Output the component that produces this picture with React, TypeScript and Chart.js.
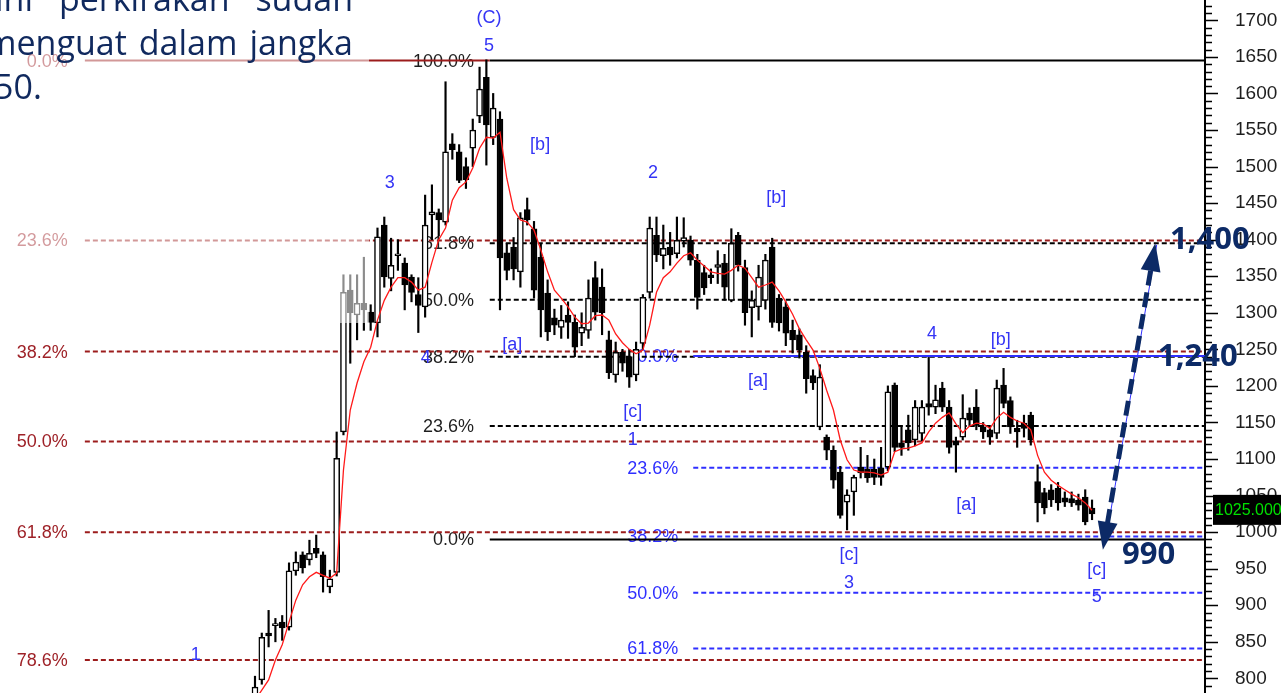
import React, { useEffect, useRef } from 'react';
import { Chart, registerables } from 'chart.js';

Chart.register(...registerables);

// ---- Candles (index = trading session) ----
const opens = [
  770, 798, 862, 872, 877, 870, 947, 969, 962, 978,
  969, 925, 945, 1137, 1331, 1297, 1313, 1301, 1286, 1420,
  1347, 1378, 1368, 1349, 1325, 1308, 1434, 1437, 1424, 1531,
  1520, 1500, 1525, 1569, 1622, 1540, 1565, 1382, 1390, 1356,
  1441, 1415, 1376, 1327, 1293, 1280, 1297, 1287, 1272, 1276,
  1348, 1335, 1263, 1215, 1246, 1240, 1215, 1258, 1328, 1406,
  1378, 1390, 1381, 1398, 1399, 1372, 1355, 1352, 1362, 1368,
  1317, 1406, 1362, 1307, 1308, 1317, 1390, 1320, 1308, 1276,
  1270, 1246, 1214, 1144, 1130, 1112, 1082, 1041, 1055, 1089,
  1086, 1086, 1088, 1089, 1201, 1122, 1140, 1126, 1135, 1176,
  1171, 1197, 1171, 1125, 1130, 1163, 1171, 1144, 1140, 1135,
  1201, 1180, 1142, 1149, 1160, 1069, 1054, 1058, 1060, 1047,
  1046, 1044, 1048, 1033,
];
const highs = [
  803, 862, 893, 882, 886, 958, 973, 973, 989, 996,
  973, 948, 1137, 1352, 1352, 1352, 1376, 1311, 1416, 1431,
  1402, 1400, 1375, 1352, 1348, 1461, 1475, 1442, 1616, 1545,
  1530, 1512, 1565, 1636, 1646, 1600, 1575, 1395, 1403, 1437,
  1457, 1425, 1395, 1345, 1305, 1310, 1315, 1297, 1300, 1345,
  1370, 1360, 1275, 1260, 1250, 1250, 1260, 1325, 1431, 1431,
  1420, 1410, 1431, 1430, 1405, 1380, 1365, 1360, 1385, 1380,
  1415, 1410, 1372, 1330, 1365, 1380, 1402, 1325, 1315, 1290,
  1278, 1255, 1222, 1229, 1133, 1118, 1090, 1058, 1078, 1116,
  1105, 1100, 1116, 1200, 1204, 1146, 1160, 1180, 1180, 1239,
  1201, 1205, 1180, 1130, 1188, 1170, 1195, 1150, 1145, 1208,
  1224, 1185, 1153, 1160, 1164, 1092, 1060, 1065, 1068, 1055,
  1055, 1052, 1058, 1044,
];
const lows = [
  760, 792, 843, 850, 852, 866, 941, 944, 955, 965,
  918, 917, 940, 1133, 1231, 1263, 1276, 1276, 1267, 1335,
  1330, 1358, 1304, 1315, 1273, 1294, 1400, 1405, 1420, 1510,
  1478, 1470, 1500, 1560, 1502, 1530, 1304, 1345, 1345, 1335,
  1420, 1320, 1267, 1262, 1270, 1265, 1265, 1240, 1255, 1265,
  1290, 1270, 1210, 1205, 1220, 1198, 1207, 1250, 1320, 1370,
  1360, 1365, 1375, 1390, 1365, 1305, 1325, 1340, 1340, 1317,
  1315, 1357, 1283, 1267, 1290, 1305, 1280, 1275, 1255, 1245,
  1238, 1190, 1195, 1140, 1099, 1060, 1019, 1003, 1023, 1074,
  1068, 1065, 1064, 1084, 1110, 1105, 1112, 1118, 1125, 1160,
  1162, 1165, 1108, 1082, 1126, 1145, 1140, 1128, 1120, 1128,
  1170, 1135, 1116, 1130, 1119, 1014, 1025, 1035, 1030, 1035,
  1035, 1030, 1010, 1017,
];
const closes = [
  788, 856, 858, 875, 869, 947, 959, 951, 971, 971,
  939, 936, 1101, 1328, 1300, 1313, 1304, 1287, 1404, 1349,
  1365, 1380, 1338, 1328, 1310, 1420, 1438, 1427, 1520, 1523,
  1481, 1482, 1550, 1606, 1557, 1580, 1375, 1358, 1360, 1430,
  1427, 1331, 1304, 1274, 1283, 1290, 1287, 1253, 1280, 1320,
  1301, 1300, 1218, 1246, 1231, 1212, 1250, 1321, 1416, 1379,
  1388, 1379, 1399, 1403, 1372, 1321, 1334, 1348, 1366, 1335,
  1395, 1365, 1300, 1317, 1349, 1372, 1287, 1286, 1272, 1263,
  1249, 1210, 1204, 1212, 1112, 1071, 1023, 1051, 1075, 1081,
  1074, 1075, 1075, 1192, 1116, 1116, 1122, 1171, 1171, 1171,
  1181, 1171, 1116, 1119, 1156, 1153, 1146, 1137, 1130, 1197,
  1176, 1144, 1137, 1142, 1126, 1040, 1033, 1044, 1040, 1041,
  1040, 1037, 1014, 1025,
];
// red moving average
const maValues = [
  770, 784, 798, 825, 846, 877, 907, 928, 939, 945,
  941, 937, 944, 1085, 1167, 1204, 1233, 1253, 1290, 1317,
  1335, 1348, 1348, 1342, 1331, 1335, 1369, 1400, 1416, 1454,
  1471, 1479, 1498, 1525, 1540, 1539, 1547, 1484, 1441, 1427,
  1424, 1413, 1386, 1356, 1331, 1320, 1308, 1294, 1285, 1286,
  1296, 1297, 1290, 1271, 1259, 1250, 1244, 1249, 1283, 1328,
  1348, 1356, 1368, 1378, 1382, 1372, 1364, 1356, 1354, 1353,
  1358, 1365, 1361, 1348, 1335, 1338, 1342, 1330, 1315, 1298,
  1278, 1263, 1249, 1224, 1194, 1167, 1126, 1099, 1085, 1082,
  1082, 1081, 1078, 1082, 1110, 1114, 1115, 1118, 1122, 1137,
  1149, 1157, 1163, 1148, 1136, 1145, 1149, 1148, 1142, 1156,
  1164, 1157, 1152, 1149, 1140, 1105, 1082, 1071, 1064, 1058,
  1052, 1047, 1040, 1030,
];

// ---- Axes ----
const yTickValues = [800, 850, 900, 950, 1000, 1050, 1100, 1150, 1200, 1250, 1300, 1350, 1400, 1450, 1500, 1550, 1600, 1650, 1700];
const Y_MIN = 780;
const Y_MAX = 1727.8;
const X_MIN = -37.47;
const X_MAX = 139.6;

// ---- Fibonacci sets ----
const leftFibLabels = ['0.0%', '23.6%', '38.2%', '50.0%', '61.8%', '78.6%'];
const leftFibValues = [1645, 1399, 1247, 1124, 1000, 825];
const blackFibLabels = ['100.0%', '61.8%', '50.0%', '38.2%', '23.6%', '0.0%'];
const blackFibValues = [1645, 1395, 1318, 1240, 1145, 990];
const blueFibLabels = ['0.0%', '23.6%', '38.2%', '50.0%', '61.8%'];
const blueFibValues = [1241, 1088, 994, 917, 841];
const fibLabelEnd = { left: -27.5, black: 32.2, blue: 62.2 };
const fibLineStart = { left: -25.0, black: 34.5, blue: 64.4 };

// ---- Elliott wave labels ----
const waveLabels = ['(C)', '5', '3', '[b]', '2', '[b]', '[a]', '4', '[a]', '[c]', '1', '4', '[b]', '[a]', '[c]', '3', '[c]', '5', '1'];
const waveLabelX = [34.4, 34.4, 19.8, 41.9, 58.5, 76.6, 37.8, 25.1, 73.9, 55.5, 55.5, 99.5, 109.6, 104.5, 87.3, 87.3, 123.7, 123.7, -8.7];
const waveLabelY = [1703, 1665, 1477, 1529, 1491, 1457, 1256, 1238, 1207, 1164, 1126, 1271, 1263, 1037, 969, 930, 948, 911, 832];

// ---- Target annotations ----
const targetLabels = ['1,400', '1,240', '990'];
const targetLabelX = [134.46, 132.7, 127.4];
const targetLabelY = [1399.5, 1239.5, 968.6];
const arrowX = [124.6, 132.3];
const arrowY = [976, 1395];
const trendX = [125.2, 132.5];
const trendY = [999, 1393];
const lastPrice = 1025;
const lastPriceLabel = '1025.000';

const introLines = [
  ['ini', 'perkirakan', 'sudah'],
  ['menguat', 'dalam', 'jangka'],
  ['50.'],
];

const NAVY = '#0c2a66';
const DARK_RED = '#9c1c1c';
const BLUE = '#2f2fff';
const LABEL_FONT = '"Liberation Sans", Arial, sans-serif';

const annotationsPlugin = {
  id: 'waveAnnotations',
  beforeDatasetsDraw(chart: any) {
    const { ctx, scales } = chart;
    const x = scales.x;
    const y = scales.y;
    ctx.save();
    ctx.font = `18px ${LABEL_FONT}`;
    ctx.textAlign = 'right';
    ctx.textBaseline = 'middle';
    ctx.fillStyle = '#9e2127';
    leftFibLabels.forEach((t, k) => ctx.fillText(t, x.getPixelForValue(fibLabelEnd.left), y.getPixelForValue(leftFibValues[k]) + 1));
    ctx.fillStyle = '#1e1e1e';
    blackFibLabels.forEach((t, k) => ctx.fillText(t, x.getPixelForValue(fibLabelEnd.black), y.getPixelForValue(blackFibValues[k]) + 1));
    ctx.fillStyle = BLUE;
    blueFibLabels.forEach((t, k) => ctx.fillText(t, x.getPixelForValue(fibLabelEnd.blue), y.getPixelForValue(blueFibValues[k]) + 1));
    ctx.restore();
  },
  afterDatasetsDraw(chart: any) {
    const { ctx, scales } = chart;
    const x = scales.x;
    const y = scales.y;
    ctx.save();
    ctx.font = `18px ${LABEL_FONT}`;
    ctx.textAlign = 'center';
    ctx.textBaseline = 'middle';
    ctx.fillStyle = '#3434f5';
    waveLabels.forEach((t, k) => ctx.fillText(t, x.getPixelForValue(waveLabelX[k]), y.getPixelForValue(waveLabelY[k])));
    ctx.restore();
  },
  afterDraw(chart: any) {
    const { ctx, scales, chartArea } = chart;
    const x = scales.x;
    const y = scales.y;
    const ax = chartArea.right;
    ctx.save();
    // axis minor / major tick marks
    ctx.strokeStyle = '#000';
    ctx.lineWidth = 1.5;
    ctx.beginPath();
    for (let v = 790; v <= 1720; v += 10) {
      const py = Math.round(y.getPixelForValue(v)) + 0.5;
      const major = v % 50 === 0;
      ctx.moveTo(ax, py);
      ctx.lineTo(ax + (major ? 13 : 7), py);
    }
    ctx.stroke();

    // thin blue trend line
    ctx.strokeStyle = BLUE;
    ctx.lineWidth = 1;
    ctx.beginPath();
    ctx.moveTo(x.getPixelForValue(trendX[0]), y.getPixelForValue(trendY[0]));
    ctx.lineTo(x.getPixelForValue(trendX[1]), y.getPixelForValue(trendY[1]));
    ctx.stroke();

    // dashed double arrow
    const x1 = x.getPixelForValue(arrowX[0]);
    const y1 = y.getPixelForValue(arrowY[0]);
    const x2 = x.getPixelForValue(arrowX[1]);
    const y2 = y.getPixelForValue(arrowY[1]);
    const len = Math.hypot(x2 - x1, y2 - y1);
    const ux = (x2 - x1) / len;
    const uy = (y2 - y1) / len;
    const head = 28;
    const hw = 10;
    ctx.strokeStyle = NAVY;
    ctx.fillStyle = NAVY;
    ctx.lineWidth = 5;
    ctx.setLineDash([15, 7]);
    ctx.beginPath();
    ctx.moveTo(x1 + ux * (head - 2), y1 + uy * (head - 2));
    ctx.lineTo(x2 - ux * (head - 2), y2 - uy * (head - 2));
    ctx.stroke();
    ctx.setLineDash([]);
    const drawHead = (tx: number, ty: number, dx: number, dy: number) => {
      const bx = tx - dx * head;
      const by = ty - dy * head;
      ctx.beginPath();
      ctx.moveTo(tx, ty);
      ctx.lineTo(bx - dy * hw, by + dx * hw);
      ctx.lineTo(bx + dy * hw, by - dx * hw);
      ctx.closePath();
      ctx.fill();
    };
    drawHead(x2, y2, ux, uy);
    drawHead(x1, y1, -ux, -uy);

    // target labels
    ctx.font = 'bold 31px "Open Sans", "DejaVu Sans", sans-serif';
    ctx.textAlign = 'left';
    ctx.textBaseline = 'middle';
    ctx.fillStyle = NAVY;
    targetLabels.forEach((t, k) => ctx.fillText(t, x.getPixelForValue(targetLabelX[k]), y.getPixelForValue(targetLabelY[k])));

    // last price box
    const py = y.getPixelForValue(lastPrice) - 4;
    ctx.fillStyle = '#000';
    ctx.fillRect(ax + 8, py - 15, chart.width - ax - 8, 30);
    ctx.fillStyle = '#00e000';
    ctx.font = `16px ${LABEL_FONT}`;
    ctx.textAlign = 'left';
    ctx.textBaseline = 'middle';
    ctx.fillText(lastPriceLabel, ax + 10, py + 1);
    ctx.restore();
  },
};

function fibLine(value: number, start: number, color: string, dashed: boolean, order: number, end: number = X_MAX) {
  return {
    type: 'line' as const,
    data: [{ x: start, y: value }, { x: end, y: value }],
    borderColor: color,
    borderWidth: 2,
    borderDash: dashed ? [5, 3] : [],
    pointRadius: 0,
    order,
  };
}

export default function App() {
  const canvasRef = useRef<HTMLCanvasElement>(null);

  useEffect(() => {
    const canvas = canvasRef.current;
    if (!canvas) return;
    const wickData = highs.map((h, i) => ({ x: i, y: [lows[i], h] }));
    const bodyData = opens.map((o, i) => ({ x: i, y: [Math.min(o, closes[i]), Math.max(o, closes[i])] }));
    const bodyColors = opens.map((o, i) => (closes[i] >= o ? '#ffffff' : '#000000'));
    const maData = maValues.map((v, i) => ({ x: i, y: v }));

    const datasets: any[] = [
      ...leftFibValues.map((v, k) =>
        k === 0
          ? fibLine(v, fibLineStart.left, DARK_RED, false, 12, fibLineStart.black)
          : fibLine(v, fibLineStart.left, DARK_RED, true, 12)
      ),
      ...blackFibValues.map((v, k) =>
        fibLine(v, fibLineStart.black, '#000000', k === 0 || k === blackFibValues.length - 1 ? false : true, 11)
      ),
      ...blueFibValues.map((v, k) => fibLine(v, fibLineStart.blue, BLUE, k !== 0, 10)),
      {
        type: 'bar',
        data: wickData,
        backgroundColor: '#000000',
        borderWidth: 0,
        barThickness: 1.5,
        grouped: false,
        order: 5,
      },
      {
        type: 'bar',
        data: bodyData,
        backgroundColor: bodyColors,
        borderColor: '#000000',
        borderWidth: 1.5,
        borderSkipped: false,
        barThickness: 6,
        minBarLength: 2,
        grouped: false,
        order: 4,
      },
      {
        type: 'line',
        data: maData,
        borderColor: '#ff1a1a',
        borderWidth: 1.3,
        pointRadius: 0,
        tension: 0,
        order: 1,
      },
    ];

    const chart = new Chart(canvas, {
      type: 'bar',
      data: { datasets },
      options: {
        responsive: false,
        animation: false,
        events: [],
        layout: { padding: 0, autoPadding: false },
        plugins: { legend: { display: false }, tooltip: { enabled: false } },
        scales: {
          x: {
            type: 'linear',
            display: false,
            min: X_MIN,
            max: X_MAX,
            offset: false,
          },
          y: {
            type: 'linear',
            position: 'right',
            min: Y_MIN,
            max: Y_MAX,
            grid: { display: false, drawTicks: false },
            border: { display: true, color: '#000', width: 2 },
            ticks: {
              autoSkip: false,
              padding: 30,
              color: '#1e1e1e',
              font: { family: LABEL_FONT, size: 19 },
              callback: (v: any) => String(v),
            },
            afterBuildTicks: (scale: any) => {
              scale.ticks = yTickValues.map((v) => ({ value: v }));
            },
            afterFit: (scale: any) => {
              scale.width = 76;
              scale.paddingTop = 0;
              scale.paddingBottom = 0;
            },
          },
        },
      } as any,
      plugins: [annotationsPlugin],
    });
    return () => chart.destroy();
  }, []);

  const textStyle = (top: number, left: number, width?: number): React.CSSProperties => ({
    position: 'absolute',
    top,
    left,
    width,
    fontFamily: '"Open Sans", "Noto Sans", sans-serif',
    fontSize: 34,
    lineHeight: '44px',
    color: '#10295e',
    whiteSpace: 'nowrap',
    display: 'flex',
    justifyContent: width ? 'space-between' : 'flex-start',
  });

  return (
    <div style={{ position: 'absolute', left: 0, top: 0, width: 1281, height: 693, overflow: 'hidden', background: '#fff' }}>
      <canvas ref={canvasRef} width={1281} height={693} style={{ display: 'block' }} />
      <div style={{ position: 'absolute', left: 0, top: 0, width: 369, height: 323, background: 'rgba(255,255,255,0.55)' }} />
      <div style={textStyle(-24, -5, 358)}>
        {introLines[0].map((w) => <span key={w}>{w}</span>)}
      </div>
      <div style={textStyle(20, -15, 368)}>
        {introLines[1].map((w) => <span key={w}>{w}</span>)}
      </div>
      <div style={textStyle(64, -6)}>
        {introLines[2].map((w) => <span key={w}>{w}</span>)}
      </div>
    </div>
  );
}
